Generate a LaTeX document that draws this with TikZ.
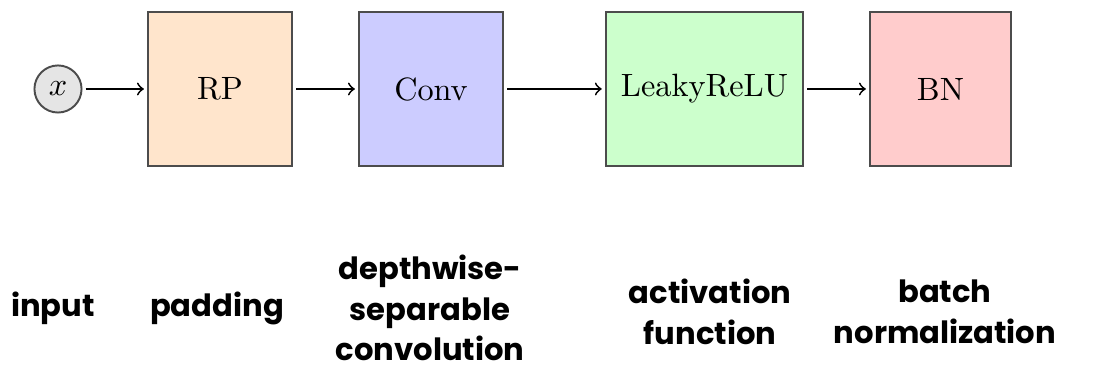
\documentclass[tikz,border=0pt]{standalone}
\usepackage{fontspec}
\newfontfamily\labelfont{Poppins}
\usetikzlibrary{calc}
\tikzset{
	block/.style={draw=black!70, line width=0.6pt, minimum height=47.7pt, inner sep=0pt, font=\fontsize{10}{12}\selectfont},
	caption/.style={align=center, font=\labelfont\bfseries\fontsize{9.5}{12.6}\selectfont},
	link/.style={->, line width=0.55pt, shorten <=1pt, shorten >=1pt},
}

\begin{document}
\begin{tikzpicture}[x=0.0109cm, y=-0.0109cm]
		%%%%% START %%%%%
		\useasboundingbox (0, 0) rectangle (1109, 371);
		
		\node[circle, draw=black!70, line width=0.6pt, fill=black!10, minimum size=14.6pt, inner sep=0pt] (x) at (58, 89) {$x$};
		
		\node[block, fill=orange!20, minimum width=44.6pt] (rp) at (220, 89) {RP};
		\node[block, fill=blue!20, minimum width=44.6pt] (conv) at (431, 89) {Conv};
		\node[block, fill=green!20, minimum width=61.1pt] (relu) at (704.5, 89) {LeakyReLU};
		\node[block, fill=red!20, minimum width=43.7pt] (bn) at (940.5, 89) {BN};
		
		\draw[link] (x) -- (rp);
		\draw[link] (rp) -- (conv);
		\draw[link] (conv) -- (relu);
		\draw[link] (relu) -- (bn);
		
		\node[caption] (in) at (53, 308) {input};
		\node[caption] (pad) at (217, 308) {padding};
		\node[caption] (dsc) at (430, 308) {depthwise-\\separable\\convolution};
		\node[caption] (act) at (710, 312) {activation\\function};
		\node[caption] (bat) at (945, 312) {batch\\normalization};
		
		%%%%% END %%%%%
	\end{tikzpicture}
\end{document}
